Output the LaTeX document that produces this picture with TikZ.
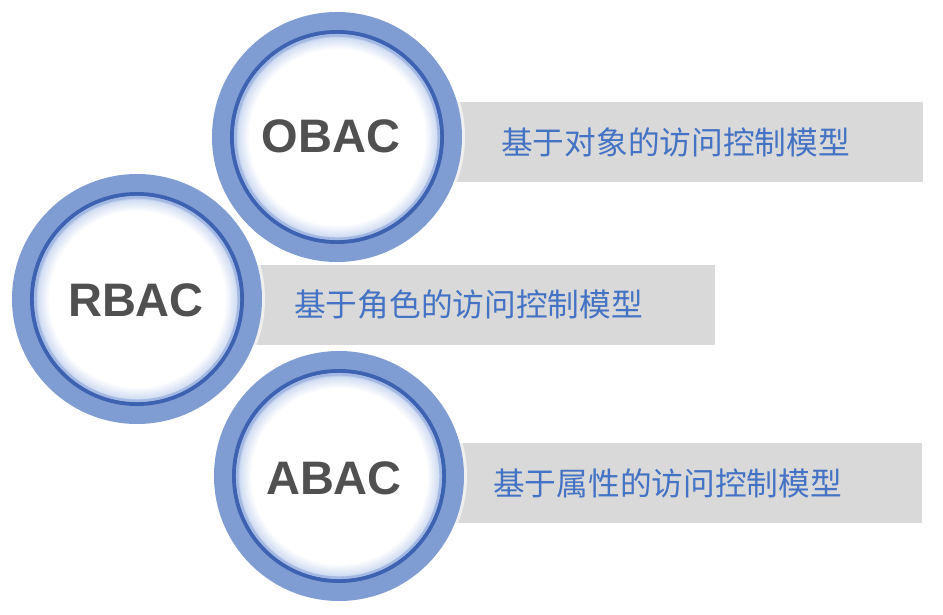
\documentclass[tikz,border=0pt]{standalone}
\usepackage{fontspec}
\setmainfont{Liberation Sans}
\newfontfamily\cjk{Noto Sans CJK SC}
\definecolor{ringblue}{HTML}{7F9DD3}
\definecolor{darkring}{HTML}{3D62B1}
\definecolor{lightring}{HTML}{A3B9E3}
\definecolor{glowblue}{HTML}{D3DEF3}
\definecolor{bargray}{HTML}{D9D9D9}
\definecolor{labelgray}{HTML}{505050}
\definecolor{textblue}{HTML}{4472C4}
\pgfdeclareradialshading{innerglow}{\pgfpoint{0bp}{0bp}}{color(0bp)=(white); color(21.5bp)=(white); color(24.3bp)=(glowblue); color(25bp)=(lightring); color(50bp)=(lightring)}
\tikzset{
  bar/.style={fill=bargray, draw=none},
  acro/.style={font=\fontsize{47}{50}\selectfont\bfseries, text=labelgray, inner sep=0pt},
  desc/.style={font=\cjk\fontsize{31.7}{36}\selectfont, text=textblue, inner sep=0pt, anchor=west},
}
\newcommand{\myring}[2]{%
  \fill[white, opacity=0.6] (#1,#2) circle (128);
  \fill[ringblue] (#1,#2) circle (125);
  \shade[shading=innerglow] (#1,#2) circle (102);
  \draw[darkring, line width=4pt] (#1,#2) circle (105);
  \draw[lightring, line width=2.5pt] (#1,#2) circle (101.8);
}
\begin{document}
\begin{tikzpicture}[x=1pt, y=1pt]
\useasboundingbox (0,0) rectangle (943,614);
% bars
\fill[bar] (337,432) rectangle (923,512);
\fill[bar] (137,269) rectangle (715,349);
\fill[bar] (338,91) rectangle (922,171);
% rings
\myring{337}{477}
\myring{137}{315}
\myring{339}{138}
% labels
\node[acro] (o) at (331,478) {OBAC};
\node[acro] (r) at (136,314) {RBAC};
\node[acro] (a) at (334,136) {ABAC};
\node[desc] (od) at (501,472) {基于对象的访问控制模型};
\node[desc] (rd) at (294,309) {基于角色的访问控制模型};
\node[desc] (ad) at (493,131) {基于属性的访问控制模型};
\end{tikzpicture}
\end{document}
